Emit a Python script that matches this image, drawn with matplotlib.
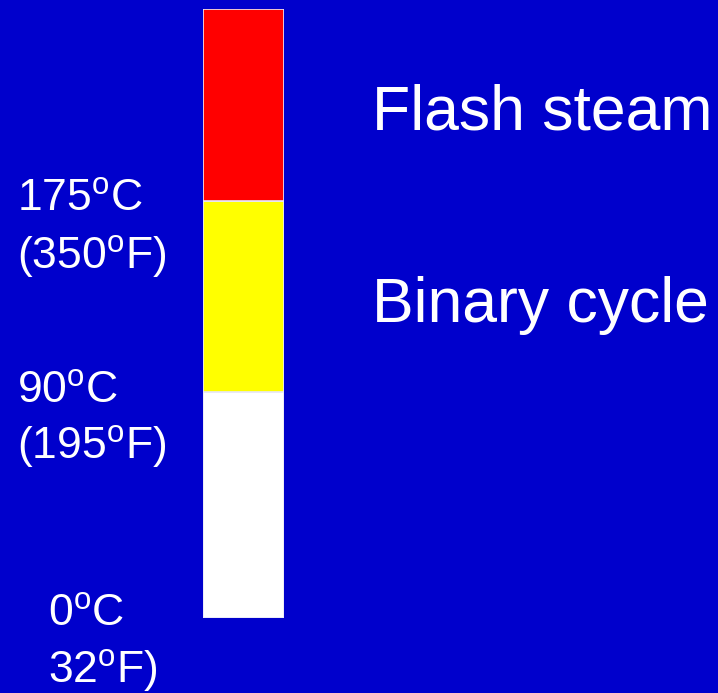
import numpy as np
import matplotlib.pyplot as plt
from matplotlib import font_manager

# left labels in the reference are horizontally squeezed -> use a narrow face if present
names = {f.name for f in font_manager.fontManager.ttflist}
narrow = 'Liberation Sans Narrow' if 'Liberation Sans Narrow' in names else 'Liberation Sans'
print(narrow)

plt.rcParams['font.family'] = ['Liberation Sans', 'DejaVu Sans']
plt.rcParams['mathtext.fontset'] = 'custom'
plt.rcParams['mathtext.rm'] = narrow
plt.rcParams['mathtext.it'] = narrow

# Bar segments, bottom to top (heights, bar units)
segments = ['Hot water', 'Binary cycle', 'Flash steam']
seg_heights = [226, 191, 192]
seg_colors = ['#ffffff', '#ffff00', '#ff0000']

# Temperature labels (two lines each) and their baselines in pixels
temp_c = ['0', '90', '175']
temp_f = ['32', '195', '350']
temp_f_fmt = ['{}$^{{\\mathrm{{o}}}}$F)', '({}$^{{\\mathrm{{o}}}}$F)', '({}$^{{\\mathrm{{o}}}}$F)']
label_x = [48, 17, 17]
label_y_c = [626, 403, 211]
label_y_f = [683, 459, 269]

# Method names on the right
methods = ['Flash steam', 'Binary cycle']
method_y = [129, 322]

bg = '#0000cc'
W, H = 718, 693
fig = plt.figure(figsize=(W / 100, H / 100), dpi=100, facecolor=bg)

# text layer in pixel coordinates
ax = fig.add_axes([0, 0, 1, 1])
ax.set_xlim(0, W)
ax.set_ylim(H, 0)
ax.axis('off')

lsize = 37 if narrow != 'Liberation Sans' else 32
for x, yc, yf, c, f, fmt in zip(label_x, label_y_c, label_y_f, temp_c, temp_f, temp_f_fmt):
    ax.text(x, yc, c + '$^{\\mathrm{o}}$C', color='white', fontsize=lsize,
            family=[narrow, 'DejaVu Sans'], va='baseline', ha='left')
    ax.text(x, yf, fmt.format(f), color='white', fontsize=lsize,
            family=[narrow, 'DejaVu Sans'], va='baseline', ha='left')

for name, y in zip(methods, method_y):
    ax.text(372, y, name, color='white', fontsize=45, va='baseline', ha='left')

# bar layer
bar_left, bar_right, bar_top, bar_bottom = 203, 284, 9, 618
bax = fig.add_axes([bar_left / W, 1 - bar_bottom / H,
                    (bar_right - bar_left) / W, (bar_bottom - bar_top) / H])
bax.set_facecolor('none')
bottoms = np.concatenate([[0], np.cumsum(seg_heights)[:-1]])
bax.bar([0] * len(seg_heights), seg_heights, bottom=bottoms, width=1.0,
        color=seg_colors, edgecolor='#e8e8f8', linewidth=1.2)
bax.set_xlim(-0.5, 0.5)
bax.set_ylim(0, sum(seg_heights))
bax.axis('off')

fig.savefig('out.png', dpi=100, facecolor=bg)
